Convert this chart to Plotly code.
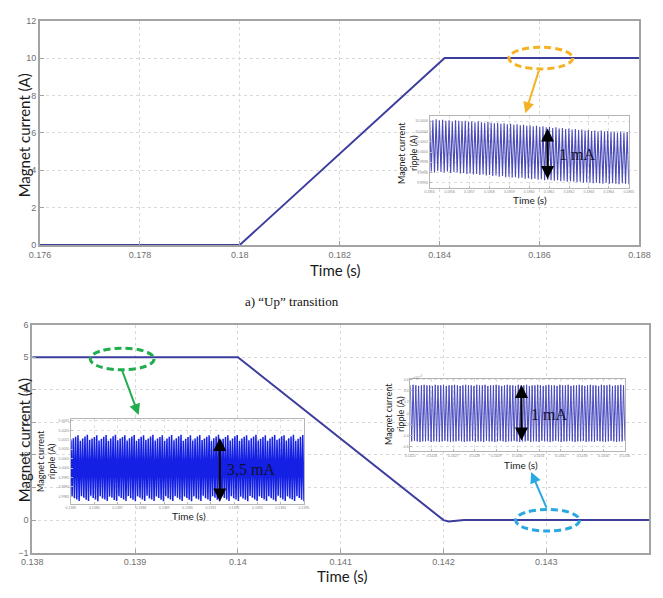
import numpy as np
import plotly.graph_objects as go

W, H = 663, 598

# ---------------- main transitions ----------------
up_t = [0.176, 0.180, 0.1841, 0.188]
up_i = [0.0, 0.0, 10.0, 10.0]
down_t = [0.138, 0.140, 0.1420, 0.14205, 0.1422, 0.144]
down_i = [5.0, 5.0, 0.0, -0.04, 0.0, 0.0]

up_xticks = [0.176, 0.178, 0.180, 0.182, 0.184, 0.186, 0.188]
up_xlabels = ["0.176", "0.178", "0.18", "0.182", "0.184", "0.186", "0.188"]
up_yticks = [0, 2, 4, 6, 8, 10, 12]
down_xticks = [0.138, 0.139, 0.140, 0.141, 0.142, 0.143]
down_xlabels = ["0.138", "0.139", "0.14", "0.141", "0.142", "0.143"]
down_yticks = [-1, 0, 1, 2, 3, 4, 5, 6]

# ---------------- ripple insets (mA deviation, one peak/trough per cycle) ----------------
# 10 A plateau after the "up" transition
up_peaks = [0.63, 0.62, 0.64, 0.62, 0.63, 0.61, 0.62, 0.60, 0.62, 0.61,
            0.60, 0.61, 0.59, 0.60, 0.58, 0.60, 0.58, 0.57, 0.59, 0.57,
            0.56, 0.57, 0.55, 0.56, 0.54, 0.55, 0.53, 0.54, 0.52, 0.53,
            0.51, 0.52, 0.50, 0.51, 0.49, 0.50, 0.48, 0.49, 0.47, 0.48,
            0.46, 0.47, 0.45, 0.46, 0.44, 0.45, 0.43, 0.44, 0.42, 0.43,
            0.41, 0.42, 0.40, 0.42, 0.40, 0.41, 0.39, 0.40, 0.38, 0.40,
            0.38, 0.39]
up_troughs = [-0.38, -0.40, -0.37, -0.39, -0.40, -0.38, -0.41, -0.39, -0.40, -0.42,
              -0.41, -0.43, -0.42, -0.44, -0.43, -0.45, -0.44, -0.46, -0.45, -0.47,
              -0.46, -0.48, -0.47, -0.49, -0.48, -0.50, -0.49, -0.51, -0.50, -0.52,
              -0.51, -0.53, -0.52, -0.54, -0.53, -0.55, -0.54, -0.55, -0.56, -0.55,
              -0.57, -0.56, -0.58, -0.57, -0.58, -0.59, -0.58, -0.60, -0.59, -0.60,
              -0.61, -0.60, -0.61, -0.62, -0.60, -0.62, -0.61, -0.62, -0.63, -0.61,
              -0.62, -0.63]

# 5 A plateau before the "down" transition
hold_peaks = [1.47, 1.58, 1.66, 1.74, 1.45, 1.56, 1.67, 1.76, 1.48, 1.57, 1.65, 1.73, 1.46, 1.55, 1.66, 1.75, 1.44, 1.57, 1.68, 1.76,
              1.47, 1.56, 1.65, 1.74, 1.46, 1.58, 1.67, 1.75, 1.45, 1.55, 1.66, 1.73, 1.48, 1.57, 1.67, 1.76, 1.46, 1.56, 1.65, 1.74,
              1.45, 1.57, 1.66, 1.75, 1.47, 1.58, 1.68, 1.76, 1.44, 1.55, 1.65, 1.73, 1.46, 1.57, 1.67, 1.75, 1.48, 1.56, 1.66, 1.74,
              1.45, 1.58, 1.67, 1.76, 1.47, 1.55, 1.65, 1.73, 1.46, 1.57, 1.68, 1.75, 1.44, 1.56, 1.66, 1.74, 1.47, 1.58, 1.67, 1.76,
              1.46, 1.55, 1.65, 1.73, 1.45, 1.57, 1.66, 1.75, 1.48, 1.56, 1.68, 1.74, 1.46, 1.58, 1.67, 1.76, 1.45, 1.55, 1.66, 1.75]
hold_troughs = [-1.48, -1.60, -1.67, -1.75, -1.50, -1.58, -1.68, -1.74, -1.47, -1.59, -1.66, -1.76, -1.49, -1.61, -1.67, -1.75, -1.51, -1.58, -1.69, -1.74,
                -1.49, -1.59, -1.66, -1.75, -1.48, -1.60, -1.68, -1.76, -1.50, -1.58, -1.67, -1.74, -1.47, -1.61, -1.66, -1.75, -1.49, -1.59, -1.68, -1.76,
                -1.50, -1.60, -1.67, -1.74, -1.48, -1.58, -1.66, -1.75, -1.51, -1.59, -1.68, -1.76, -1.49, -1.61, -1.67, -1.74, -1.47, -1.60, -1.66, -1.75,
                -1.50, -1.58, -1.68, -1.76, -1.48, -1.59, -1.67, -1.74, -1.49, -1.60, -1.66, -1.75, -1.51, -1.61, -1.68, -1.76, -1.48, -1.58, -1.67, -1.74,
                -1.49, -1.59, -1.66, -1.75, -1.50, -1.60, -1.68, -1.76, -1.47, -1.58, -1.67, -1.74, -1.49, -1.61, -1.66, -1.75, -1.50, -1.59, -1.68, -1.76]

# 0 A plateau after the "down" transition
zero_peaks = [0.50, 0.51, 0.50, 0.49, 0.50, 0.51, 0.50, 0.50, 0.49, 0.51,
              0.50, 0.50, 0.51, 0.49, 0.50, 0.50, 0.51, 0.50, 0.49, 0.50,
              0.51, 0.50, 0.50, 0.49, 0.51, 0.50, 0.50, 0.51, 0.49, 0.50,
              0.50, 0.51, 0.50, 0.49, 0.50, 0.51, 0.50, 0.50, 0.49, 0.51,
              0.50, 0.50, 0.51, 0.49, 0.50, 0.50, 0.51, 0.50, 0.49, 0.50,
              0.51, 0.50, 0.50, 0.49, 0.51, 0.50, 0.50, 0.51, 0.49, 0.50,
              0.50, 0.51, 0.50, 0.49, 0.50, 0.51, 0.50, 0.50, 0.49, 0.51,
              0.50, 0.50, 0.51, 0.49, 0.50, 0.50, 0.51, 0.50]
zero_troughs = [-0.50, -0.49, -0.50, -0.51, -0.50, -0.50, -0.49, -0.51, -0.50, -0.50,
                -0.51, -0.50, -0.49, -0.50, -0.51, -0.50, -0.50, -0.49, -0.50, -0.51,
                -0.50, -0.50, -0.49, -0.51, -0.50, -0.50, -0.51, -0.49, -0.50, -0.50,
                -0.51, -0.50, -0.49, -0.50, -0.51, -0.50, -0.50, -0.49, -0.50, -0.51,
                -0.50, -0.50, -0.49, -0.51, -0.50, -0.50, -0.51, -0.49, -0.50, -0.50,
                -0.51, -0.50, -0.49, -0.50, -0.51, -0.50, -0.50, -0.49, -0.50, -0.51,
                -0.50, -0.50, -0.49, -0.51, -0.50, -0.50, -0.51, -0.49, -0.50, -0.50,
                -0.51, -0.50, -0.49, -0.50, -0.51, -0.50, -0.50, -0.49]

# inset windows (time, s) and levels (A)
up_win = (0.1855, 0.1865)
hold_win = (0.1385, 0.1395)
zero_win = (0.1425, 0.1435)
up_level, hold_level, zero_level = 10.0, 5.0, 0.0
up_yr = (-0.70, 0.70)     # mA
hold_yr = (-1.88, 2.60)   # mA
zero_yr = (-0.68, 0.62)   # mA


def ripple(peaks, troughs, win, level):
    dev = np.ravel(np.column_stack([peaks, troughs])) / 1000.0
    t = np.linspace(win[0], win[1], len(dev))
    return t, level + dev


def px(x):
    return x / W


def py(y):
    return 1 - y / H


fig = go.Figure()

fig.add_trace(go.Scatter(x=up_t, y=up_i, mode="lines", xaxis="x", yaxis="y",
                         line=dict(color="#3d3d9e", width=2), hoverinfo="skip"))
fig.add_trace(go.Scatter(x=down_t, y=down_i, mode="lines", xaxis="x2", yaxis="y2",
                         line=dict(color="#3d3d9e", width=2), hoverinfo="skip"))

t3, y3 = ripple(up_peaks, up_troughs, up_win, up_level)
fig.add_trace(go.Scatter(x=t3, y=y3, mode="lines", xaxis="x3", yaxis="y3",
                         line=dict(color="#4a4ab8", width=1.1), hoverinfo="skip"))
t4, y4 = ripple(hold_peaks, hold_troughs, hold_win, hold_level)
fig.add_trace(go.Scatter(x=t4, y=y4, mode="lines", xaxis="x4", yaxis="y4",
                         line=dict(color="#1420e4", width=1.5), hoverinfo="skip"))
t5, y5 = ripple(zero_peaks, zero_troughs, zero_win, zero_level)
fig.add_trace(go.Scatter(x=t5, y=y5, mode="lines", xaxis="x5", yaxis="y5",
                         line=dict(color="#4a4ac0", width=1.0), hoverinfo="skip"))

main_font = dict(family="Liberation Sans", size=9, color="#707070")


def main_axis(**kw):
    d = dict(showline=True, mirror=True, linecolor="#a3a3a3", linewidth=2,
             showgrid=True, gridcolor="#d9d9d9", griddash="dot", gridwidth=1,
             ticks="inside", ticklen=4, tickcolor="#a3a3a3", tickfont=main_font,
             zeroline=False, fixedrange=True)
    d.update(kw)
    return d


inset_font = dict(family="Liberation Sans", size=3.5, color="#8a8a8a")


def inset_axis(**kw):
    d = dict(showline=True, mirror=True, linecolor="#b5b5b5", linewidth=1,
             showgrid=True, gridcolor="#dedede", griddash="dot", gridwidth=1,
             ticks="inside", ticklen=2, tickcolor="#b5b5b5", tickfont=inset_font,
             zeroline=False, fixedrange=True)
    d.update(kw)
    return d


def span(win, n):
    step = (win[1] - win[0]) / n
    return [win[0] + k * step for k in range(n + 1)]


up_in_xt = span(up_win, 10)
hold_in_xt = span(hold_win, 10)
zero_in_xt = span(zero_win, 10)
up_in_yt = [up_level + v / 1000 for v in (-0.6, -0.4, -0.2, 0.0, 0.2, 0.4, 0.6)]
hold_in_yt = [hold_level + v / 1000 for v in (-1.5, -1.0, -0.5, 0.0, 0.5, 1.0, 1.5, 2.0, 2.5)]
zero_in_yt = [zero_level + v / 1000 for v in (-0.6, -0.4, -0.2, 0.0, 0.2, 0.4, 0.6)]

fig.update_layout(
    width=W, height=H, autosize=False,
    margin=dict(l=0, r=0, t=0, b=0),
    paper_bgcolor="white", plot_bgcolor="white",
    showlegend=False,
    xaxis=main_axis(domain=[px(30), px(650)], range=[0.176, 0.188], anchor="y",
                    tickvals=up_xticks, ticktext=up_xlabels),
    yaxis=main_axis(domain=[py(244), py(16)], range=[0, 12], anchor="x",
                    tickvals=up_yticks),
    xaxis2=main_axis(domain=[px(22), px(660)], range=[0.138, 0.144], anchor="y2",
                     tickvals=down_xticks, ticktext=down_xlabels),
    yaxis2=main_axis(domain=[py(557), py(325)], range=[-1, 6], anchor="x2",
                     tickvals=down_yticks),
    xaxis3=inset_axis(domain=[px(433), px(639)], range=list(up_win), anchor="y3",
                      tickvals=up_in_xt, tickformat=".4f"),
    yaxis3=inset_axis(domain=[py(186), py(113)],
                      range=[up_level + up_yr[0] / 1000, up_level + up_yr[1] / 1000],
                      anchor="x3", tickvals=up_in_yt, tickformat=".4f"),
    xaxis4=inset_axis(domain=[px(62), px(303)], range=list(hold_win), anchor="y4",
                      tickvals=hold_in_xt, tickformat=".4f"),
    yaxis4=inset_axis(domain=[py(507), py(421)],
                      range=[hold_level + hold_yr[0] / 1000, hold_level + hold_yr[1] / 1000],
                      anchor="x4", tickvals=hold_in_yt, tickformat=".4f"),
    xaxis5=inset_axis(domain=[px(413), px(635)], range=list(zero_win), anchor="y5",
                      tickvals=zero_in_xt, tickformat=".4f"),
    yaxis5=inset_axis(domain=[py(454), py(380)],
                      range=[zero_level + zero_yr[0] / 1000, zero_level + zero_yr[1] / 1000],
                      anchor="x5", tickvals=zero_in_yt,
                      ticktext=["-0.6", "-0.4", "-0.2", "0", "0.2", "0.4", "0.6"]),
)

shapes = []
# white backgrounds of the insets (drawn in the inset subplot, below its grid)
for k, win, lvl, yr in ((3, up_win, up_level, up_yr), (4, hold_win, hold_level, hold_yr),
                        (5, zero_win, zero_level, zero_yr)):
    shapes.append(dict(type="rect", xref=f"x{k}", yref=f"y{k}", layer="below",
                       x0=win[0], x1=win[1], y0=lvl + yr[0] / 1000, y1=lvl + yr[1] / 1000,
                       fillcolor="white", line=dict(width=0)))

# dashed zoom ellipses
for cx, cy, col in ((548, 54, "#f5b324"), (115, 360, "#20ad4e"), (555, 524, "#2aa8e2")):
    shapes.append(dict(type="circle", xref="paper", yref="paper", layer="above",
                       x0=px(cx - 33), x1=px(cx + 33), y0=py(cy + 11), y1=py(cy - 11),
                       line=dict(color=col, width=3, dash="7px,4px")))
fig.update_layout(shapes=shapes)

ann = []
lab = dict(family="Lato", color="#1a1a1a")


def text_ann(text, x0, y0, font, angle=0):
    return dict(text=text, x=px(x0), y=py(y0), xref="paper", yref="paper",
                xanchor="center", yanchor="middle", textangle=angle,
                showarrow=False, font=font)


ann.append(text_ann("Magnet current (A)", 13, 133, dict(size=15, **lab), -90))
ann.append(text_ann("Magnet current (A)", 13, 443, dict(size=15, **lab), -90))
ann.append(text_ann("Time (s)", 335, 269, dict(size=15, **lab)))
ann.append(text_ann("Time (s)", 342, 581, dict(size=15, **lab)))
ann.append(text_ann("a) \u201cUp\u201d transition", 291, 302,
                    dict(family="Liberation Serif", size=13, color="#111111")))

# inset labels
for x0, y0 in ((410, 150), (36, 464), (396, 416)):
    ann.append(text_ann("Magnet current<br>ripple (A)", x0, y0, dict(size=9, **lab), -90))
for x0, y0 in ((537, 198), (184, 520), (527, 468)):
    ann.append(text_ann("Time (s)", x0, y0, dict(size=10, **lab)))
ann.append(dict(text="x10<sup>-3</sup>", x=px(414), y=py(378), xref="paper", yref="paper",
                xanchor="left", yanchor="middle", showarrow=False,
                font=dict(family="Liberation Sans", size=4, color="#8a8a8a")))

# coloured pointer arrows (head, tail offset)
for hx, hy, tx, ty, col in ((532, 110, 546, 66, "#f5b324"), (132, 417, 115, 371, "#20ad4e"),
                            (538, 475, 554, 512, "#2aa8e2")):
    ann.append(dict(text="", x=px(hx), y=py(hy), xref="paper", yref="paper",
                    ax=tx - hx, ay=ty - hy, showarrow=True, arrowhead=2, arrowsize=1.1,
                    arrowwidth=2, arrowcolor=col))

# black double arrows with ripple amplitude
for xa, ytop, ybot, txt, tx, ty in ((555, 125, 177, "1 mA", 585, 152),
                                    (216, 440, 505, "3,5 mA", 248, 472),
                                    (528, 386, 443, "1 mA", 556, 416)):
    ann.append(dict(text="", x=px(xa), y=py(ybot), xref="paper", yref="paper",
                    ax=0, ay=ytop - ybot, showarrow=True, arrowside="end+start",
                    arrowhead=2, startarrowhead=2, arrowsize=1.3, startarrowsize=1.3,
                    arrowwidth=2, arrowcolor="black"))
    ann.append(text_ann(txt, tx, ty, dict(family="Liberation Serif", size=16, color="#111133")))

fig.update_layout(annotations=ann)

fig.write_html("out.html")
